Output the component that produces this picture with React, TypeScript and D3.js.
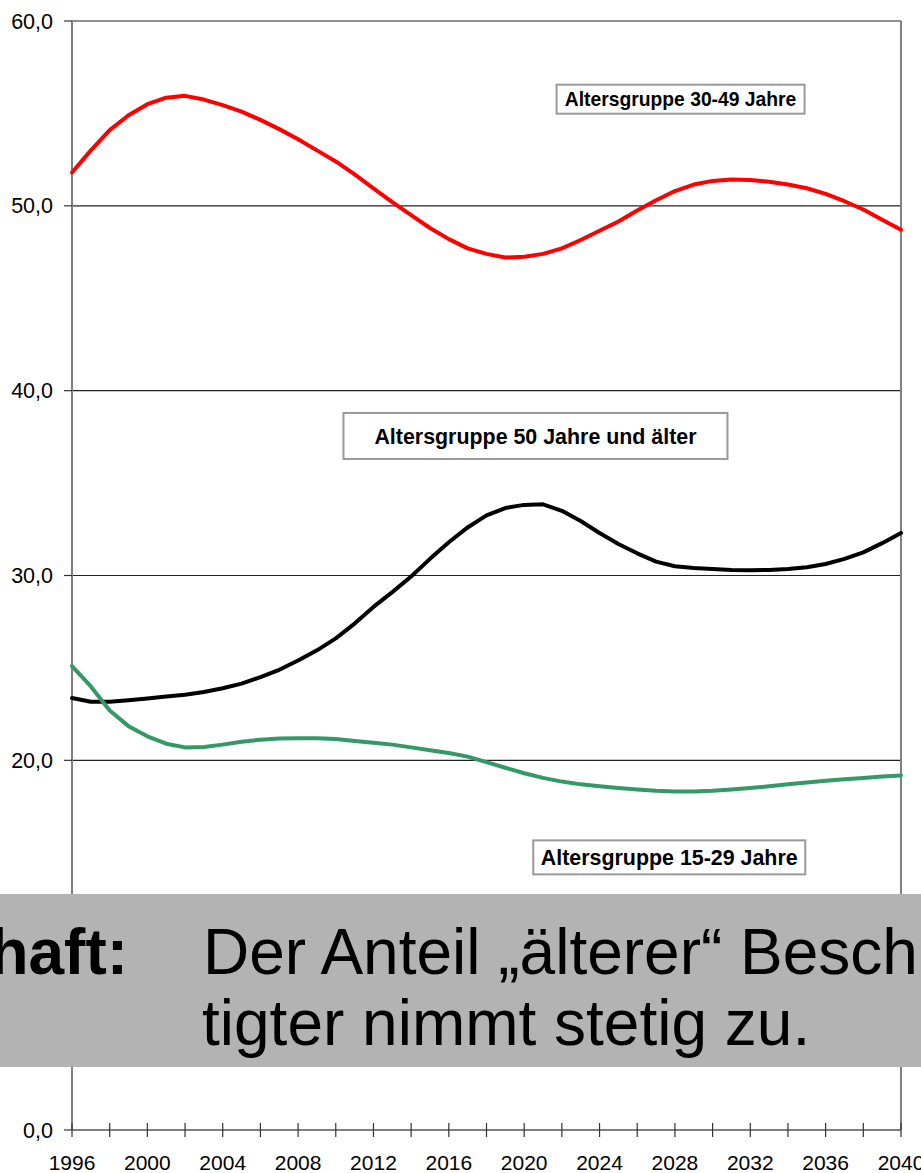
import React from "react";
import * as d3 from "d3";

const years: number[] = [
  1996, 1997, 1998, 1999, 2000, 2001, 2002, 2003, 2004, 2005, 2006, 2007, 2008, 2009, 2010,
  2011, 2012, 2013, 2014, 2015, 2016, 2017, 2018, 2019, 2020, 2021, 2022, 2023, 2024, 2025,
  2026, 2027, 2028, 2029, 2030, 2031, 2032, 2033, 2034, 2035, 2036, 2037, 2038, 2039, 2040,
];

const age30to49: number[] = [
  51.8, 53.0, 54.1, 54.9, 55.5, 55.85, 55.95, 55.75, 55.45, 55.1, 54.65, 54.15, 53.6, 53.0, 52.4,
  51.7, 50.95, 50.2, 49.5, 48.8, 48.2, 47.7, 47.4, 47.2, 47.25, 47.4, 47.7, 48.15, 48.65, 49.15,
  49.75, 50.3, 50.8, 51.15, 51.35, 51.42, 51.4, 51.3, 51.15, 50.95, 50.65, 50.25, 49.8, 49.25, 48.7,
];

const age50plus: number[] = [
  23.37, 23.17, 23.17, 23.25, 23.35, 23.45, 23.55, 23.7, 23.9, 24.15, 24.5, 24.9, 25.4, 25.95, 26.6,
  27.4, 28.3, 29.1, 29.95, 30.9, 31.8, 32.6, 33.25, 33.65, 33.82, 33.85, 33.5, 32.95, 32.3, 31.7,
  31.2, 30.75, 30.5, 30.4, 30.35, 30.3, 30.28, 30.3, 30.35, 30.45, 30.62, 30.9, 31.25, 31.75, 32.3,
];

const age15to29: number[] = [
  25.1, 24.0, 22.7, 21.85, 21.3, 20.9, 20.7, 20.72, 20.85, 21.0, 21.12, 21.18, 21.2, 21.2, 21.15,
  21.05, 20.95, 20.85, 20.7, 20.55, 20.4, 20.2, 19.9, 19.6, 19.3, 19.05, 18.85, 18.7, 18.6, 18.5,
  18.42, 18.35, 18.32, 18.32, 18.35, 18.42, 18.5, 18.6, 18.7, 18.8, 18.9, 18.98, 19.05, 19.12, 19.18,
];

const yTicks: number[] = [0, 10, 20, 30, 40, 50, 60];
const xTickYears: number[] = [
  1996, 1998, 2000, 2002, 2004, 2006, 2008, 2010, 2012, 2014, 2016, 2018, 2020, 2022, 2024, 2026,
  2028, 2030, 2032, 2034, 2036, 2038, 2040,
];
const xLabelYears: number[] = [1996, 2000, 2004, 2008, 2012, 2016, 2020, 2024, 2028, 2032, 2036, 2040];

const labels = [
  { text: "Altersgruppe 30-49 Jahre", year: 2028.3, value: 55.77, w: 248, h: 29, fs: 19.3 },
  { text: "Altersgruppe 50 Jahre und älter", year: 2020.6, value: 37.55, w: 384, h: 46, fs: 21.4 },
  { text: "Altersgruppe 15-29 Jahre", year: 2027.7, value: 14.75, w: 272, h: 34, fs: 21.4 },
];

const W = 921;
const H = 1173;
const FONT = "Liberation Sans, Arial, Helvetica, sans-serif";

export default function App() {
  const x = d3.scaleLinear().domain([1996, 2040]).range([72, 901]);
  const y = d3.scaleLinear().domain([0, 60]).range([1130, 21]);

  const mk = (vals: number[]) =>
    d3
      .line<number>()
      .x((_, i) => x(years[i]))
      .y((v) => y(v))
      .curve(d3.curveLinear)(vals) || "";

  const series = [
    { vals: age30to49, color: "#ff0000" },
    { vals: age50plus, color: "#000000" },
    { vals: age15to29, color: "#339966" },
  ];

  return (
    <svg
      width={W}
      height={H}
      style={{ position: "absolute", left: 0, top: 0, background: "#fff" }}
      fontFamily={FONT}
    >
      {/* gridlines */}
      {yTicks.filter((t) => t > 0).map((t) => (
        <line key={"g" + t} x1={x(1996)} x2={x(2040)} y1={y(t)} y2={y(t)} stroke="#222" strokeWidth={1.2} />
      ))}
      {/* y axis */}
      <line x1={x(1996)} x2={x(1996)} y1={y(60)} y2={y(0)} stroke="#808080" strokeWidth={2} />
      <line x1={x(2040)} x2={x(2040)} y1={y(60)} y2={y(0)} stroke="#808080" strokeWidth={2} />
      {yTicks.map((t) => (
        <g key={"yt" + t}>
          <line x1={x(1996) - 8} x2={x(1996)} y1={y(t)} y2={y(t)} stroke="#333" strokeWidth={1.2} />
          <text x={53} y={y(t) + 7.5} textAnchor="end" fontSize={21.5} fill="#000">
            {d3.format(".1f")(t).replace(".", ",")}
          </text>
        </g>
      ))}
      {/* x axis */}
      <line x1={x(1996)} x2={x(2040)} y1={y(0)} y2={y(0)} stroke="#555" strokeWidth={1.5} />
      {xTickYears.map((yr) => (
        <line key={"xt" + yr} x1={x(yr)} x2={x(yr)} y1={y(0) - 7} y2={y(0) + 7} stroke="#333" strokeWidth={1.2} />
      ))}
      {xLabelYears.map((yr) => (
        <text key={"xl" + yr} x={x(yr)} y={1170} textAnchor="middle" fontSize={21} fill="#000">
          {yr}
        </text>
      ))}
      {/* series */}
      {series.map((s, i) => (
        <path key={"s" + i} d={mk(s.vals)} fill="none" stroke={s.color} strokeWidth={4} strokeLinejoin="round" strokeLinecap="round" />
      ))}
      {/* labels */}
      {labels.map((l, i) => {
        const cx = x(l.year);
        const cy = y(l.value);
        return (
          <g key={"lb" + i}>
            <rect x={cx - l.w / 2} y={cy - l.h / 2} width={l.w} height={l.h} fill="#fff" stroke="#999" strokeWidth={2} />
            <text x={cx} y={cy + l.fs * 0.36} textAnchor="middle" fontSize={l.fs} fontWeight="bold" fill="#000">
              {l.text}
            </text>
          </g>
        );
      })}
      {/* grey banner */}
      <rect x={0} y={894} width={W} height={173} fill="#b3b3b3" />
      <text x={128} y={974} textAnchor="end" fontSize={64} fontWeight="bold" fill="#000">
        haft:
      </text>
      <text x={203} y={974} fontSize={64} fill="#000">
        Der Anteil „älterer“ Besch
      </text>
      <text x={202} y={1045} fontSize={64} fill="#000">
        tigter nimmt stetig zu.
      </text>
    </svg>
  );
}
